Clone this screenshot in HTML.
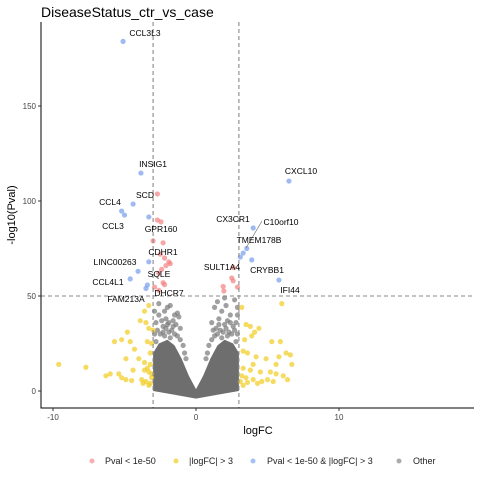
<!DOCTYPE html>
<html><head><meta charset="utf-8"><style>
body{margin:0;background:#fff;font-family:"Liberation Sans","DejaVu Sans",sans-serif}
</style></head><body>
<svg id="chart" width="480" height="480" xmlns="http://www.w3.org/2000/svg" style="display:block">
<text x="41" y="17" font-size="14" fill="#000">DiseaseStatus_ctr_vs_case</text>
<g id="plot"></g>
<text x="258" y="434" font-size="11" text-anchor="middle">logFC</text>
<text transform="translate(15,215) rotate(-90)" font-size="11" text-anchor="middle">-log10(Pval)</text>
<g font-size="9" fill="#222">
<circle cx="92" cy="461" r="2.5" fill="#f28e8e" opacity="0.7"/>
<text x="105" y="464">Pval &lt; 1e-50</text>
<circle cx="176" cy="461" r="2.5" fill="#f2cc20" opacity="0.7"/>
<text x="189" y="464">|logFC| &gt; 3</text>
<circle cx="253" cy="461" r="2.5" fill="#8fb0f0" opacity="0.8"/>
<text x="267" y="464">Pval &lt; 1e-50 &amp; |logFC| &gt; 3</text>
<circle cx="399" cy="461" r="2.5" fill="#888" opacity="0.7"/>
<text x="413" y="464">Other</text>
</g>
</svg>
<script>
const xTicks=[-10,0,10];
const yTicks=[0,50,100,150];
const envelope=[[-3,0],[-3,20],[-2.6,25],[-2,27],[-1.5,24],[-1,17],[-0.5,8],[0,1],[0.5,8],[1,17],[1.5,24],[2,27],[2.6,25],[3,20],[3,0],[1.5,-2],[0,-4],[-1.5,-2]];
const grayPts=[[-2.6,40],[-2.2,42],[-2,44],[-1.8,45],[-1.5,40],[-1.3,41],[-1.2,39],[-2.1,38],[-1.9,36],[-2.6,46],[-2.3,34],[-1.1,33],[-1.6,37],[1.3,44],[1.5,47],[1.8,42],[2.1,45],[2.4,40],[2.7,48],[1.1,36],[1.6,38],[2.2,37],[2.6,34],[1.4,33],[2,49],
[-2.9,30],[-2.7,32],[-2.5,30],[-2.3,31],[-2.1,33],[-1.9,31],[-1.7,32],[-1.5,30],[-1.3,29],[-1.1,27],[-0.9,24],[-0.8,20],[-0.7,17],[-2.8,36],[-2.4,37],[-2,35],[-1.6,34],[-1.4,35],[-2.8,26],[-2.2,29],[-1.8,28],
[2.9,30],[2.7,32],[2.5,30],[2.3,31],[2.1,33],[1.9,31],[1.7,32],[1.5,30],[1.3,29],[1.1,27],[0.9,24],[0.8,20],[0.7,17],[2.8,36],[2.4,36],[2,35],[1.6,35],[1.2,32],[2.8,26],[2.2,29],[1.8,28],[2.9,40],[2.9,44],[-2.9,42]];
const redPts=[[-2.7,103.7],[-2.7,90],[-2.45,89],[-3,79],[-2.3,78],[-2.5,72],[-2.2,70],[-1.9,68],[-2.1,66],[-1.8,67],[-2.4,64],[-2.6,62],[-2.3,57],[-2.2,56],[-2.9,54.7],[-2.6,53],[2.6,65],[2.5,59.5],[2.6,58],[1.9,55],[1.95,52.6],[2.9,54.7]];
const bluePts=[[-5.1,184],[-3.85,114.7],[-4.4,98.4],[-5.2,94.7],[-5,92.6],[-3.3,91.6],[6.5,110.5],[4,85.8],[3.55,75],[3.3,72.6],[3.1,70.5],[3.9,69],[5.8,58.4],[-3.3,68],[-4.05,63],[-4.6,59],[-3.4,55.8],[-3.5,54]];
const yellowPts=[[6,46],[-3.3,45],[-3.6,42],[-3.9,37],[-3.5,36],[-3.3,33],[-4.8,31],[-3,32],[-5.7,26],[-5.2,27],[-4.6,26],[-3.4,26],[-3.1,25],[-4.3,22],[-3.2,20],[-4,17],[-4.9,17],[-3.6,15],[-3.2,14],[-3.4,12],[-5.4,9],[-4.4,11],[-3.6,11],[-3.3,10],[-3.1,9],[-5.2,7],[-4.9,6],[-4.5,5.5],[-3.8,6],[-3.5,5],[-3.2,4],[-3.1,7],[-9.6,14],[-7.7,12.5],[-6.3,8],[-6,9],[3.2,44],[3.5,35],[3.8,34],[4.4,33],[4.1,31],[3.9,29],[3.4,27],[5.3,26],[5.9,26],[3.3,21],[3.6,20],[4.2,18],[4.9,17],[5.8,18],[6.3,20],[6.6,19],[6.7,14],[5.6,14],[4,14],[3.3,12],[3.8,11],[4.5,10],[5.2,10],[5.6,9],[6.1,8],[6.4,6],[3.2,8],[3.5,7],[4,6],[4.6,5],[5,6],[5.4,5],[3.1,5],[3.6,4.5],[4.3,4],[3.3,3],[-3.3,3],[-3.7,4]];
const labels=[["CCL3L3",145,36],["INSIG1",153,167],["SCD",145,198],["CCL4",110,205],["CCL3",113,229],["GPR160",161,232],["CDHR1",163,255],["LINC00263",115,265],["SQLE",159,277],["CCL4L1",108,285],["DHCR7",169,296],["FAM213A",126,302],["CXCL10",301,174],["CX3CR1",233,222],["C10orf10",281,225],["TMEM178B",259,243],["SULT1A4",222,270],["CRYBB1",267,273],["IFI44",290,293]];
const NS="http://www.w3.org/2000/svg";
const X=v=>196+v*14.3, Y=v=>391-v*1.9;
const L=41,R=474,T=22,B=408;
const g=document.getElementById('plot');
function mk(t,a,p){const e=document.createElementNS(NS,t);for(const k in a)e.setAttribute(k,a[k]);(p||g).appendChild(e);return e;}
let e=mk('polygon',{points:envelope.map(p=>X(p[0])+','+Y(p[1])).join(' '),fill:'#6e6e6e'});


function pts(arr,col,op,name){arr.forEach(p=>{const c=mk('circle',{cx:X(p[0]),cy:Y(p[1]),r:2.6,fill:col,opacity:op});

});}
pts(grayPts,'#777',0.7,'gray-point');
pts(yellowPts,'#f2cc20',0.7,'yellow-point');
pts(redPts,'#f28080',0.7,'red-point');
pts(bluePts,'#7fa3ee',0.75,'blue-point');
[[X(-3),T,X(-3),B],[X(3),T,X(3),B],[L,Y(50),R,Y(50)]].forEach(l=>{const d=mk('line',{x1:l[0],y1:l[1],x2:l[2],y2:l[3],stroke:'#888','stroke-width':1.1,'stroke-dasharray':'4,3'});

});
e=mk('line',{x1:262,y1:221,x2:246,y2:248,stroke:'#666','stroke-width':0.6});


labels.forEach(l=>{const t=mk('text',{x:l[1],y:l[2],'font-size':8.5,'text-anchor':'middle',fill:'#000'});t.textContent=l[0];

});
e=mk('path',{d:`M${L},${T}V${B}H${R}`,fill:'none',stroke:'#000','stroke-width':1});


xTicks.forEach(v=>{const a=mk('line',{x1:X(v),x2:X(v),y1:B,y2:B+3,stroke:'#333'});


const t=mk('text',{x:X(v),y:B+12,'font-size':8,'text-anchor':'middle',fill:'#444'});t.textContent=v;

});
yTicks.forEach(v=>{const a=mk('line',{x1:L-3,x2:L,y1:Y(v),y2:Y(v),stroke:'#333'});


const t=mk('text',{x:L-5,y:Y(v)+3,'font-size':8,'text-anchor':'end',fill:'#444'});t.textContent=v;

});
</script>
</body></html>
